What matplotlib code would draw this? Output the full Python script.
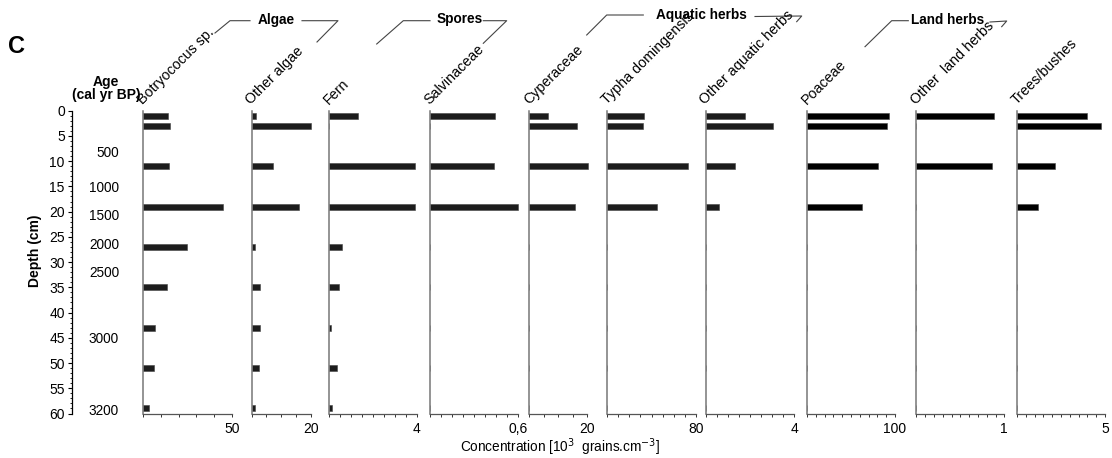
import numpy as np
import matplotlib
matplotlib.use("Agg")
import matplotlib.pyplot as plt
from matplotlib.lines import Line2D

plt.rcParams['font.family'] = ['Liberation Sans', 'DejaVu Sans']

# sample depths (cm)
depths = [1, 3, 11, 19, 27, 35, 43, 51, 59]

# concentrations [10^3 grains.cm-3], 0 = not found
botryococcus = [13.7, 15.2, 14.7, 45.3, 24.8, 13.4, 6.8, 6.2, 3.0]
other_algae = [1.4, 20.0, 7.3, 16.0, 1.1, 2.8, 2.8, 2.5, 1.2]
fern = [1.32, 0, 3.91, 3.91, 0.59, 0.47, 0.10, 0.35, 0.15]
salvinaceae = [0.445, 0, 0.436, 0.60, 0, 0, 0, 0, 0]
cyperaceae = [6.3, 16.5, 20.2, 15.8, 0, 0, 0, 0, 0]
typha = [33.2, 32.6, 73.0, 44.7, 0, 0, 0, 0, 0]
other_aquatic = [1.79, 3.04, 1.32, 0.62, 0, 0, 0, 0, 0]
poaceae = [93.5, 90.5, 80.7, 62.9, 0, 0, 0, 0, 0]
other_land = [0.886, 0, 0.864, 0, 0, 0, 0, 0, 0]
trees = [3.98, 4.77, 2.18, 1.21, 0, 0, 0, 0, 0]

taxa = ["Botryococus sp.", "Other algae", "Fern", "Salvinaceae", "Cyperaceae",
        "Typha domingensis", "Other aquatic herbs", "Poaceae",
        "Other  land herbs", "Trees/bushes"]
series = [botryococcus, other_algae, fern, salvinaceae, cyperaceae,
          typha, other_aquatic, poaceae, other_land, trees]
xmax = [50, 20, 4, 0.6, 20, 80, 4, 100, 1, 5]
xmax_labels = ["50", "20", "4", "0,6", "20", "80", "4", "100", "1", "5"]
n_intervals = [5, 4, 8, 8, 4, 8, 8, 10, 10, 10]

# age scale
age_labels = ["500", "1000", "1500", "2000", "2500", "3000", "3200"]
age_depths = [8.4, 15.4, 20.8, 26.6, 32.2, 45.2, 59.6]

groups = ["Algae", "Spores", "Aquatic herbs", "Land herbs"]

# ---- layout (pixels) ----
W, H = 1112, 458
fig = plt.figure(figsize=(W / 100, H / 100), dpi=100)
y_top, y_bot = 110.7, 413.5
panel_x = [(143.3, 231.7), (251.5, 310.7), (329.0, 416.7), (430.0, 518.0),
           (529.3, 587.3), (607.3, 695.7), (705.7, 794.3), (807.0, 895.0),
           (916.3, 1004.3), (1017.0, 1105.0)]
bar_colors = ['#1c1c1c'] * 7 + ['#000000'] * 3


def px_rect(x0, x1):
    return [x0 / W, 1 - y_bot / H, (x1 - x0) / W, (y_bot - y_top) / H]


# depth axis
axd = fig.add_axes(px_rect(71.7, 140))
axd.set_ylim(60, 0)
axd.set_xlim(0, 1)
for s in ['top', 'right', 'bottom']:
    axd.spines[s].set_visible(False)
axd.spines['left'].set_linewidth(0.9)
axd.set_xticks([])
axd.set_yticks(np.arange(0, 61, 5))
axd.set_yticks(np.arange(0, 61, 1), minor=True)
axd.tick_params(axis='y', which='major', length=3, width=0.8, labelsize=10, pad=2)
axd.tick_params(axis='y', which='minor', length=1.5, width=0.6)
axd.patch.set_visible(False)

# age labels, right aligned at a fixed pixel column
for lab, d in zip(age_labels, age_depths):
    ypx = y_top + (y_bot - y_top) * d / 60
    fig.text(119 / W, 1 - ypx / H, lab, fontsize=9.8, ha='right', va='center')

# panels
for i, (name, vals) in enumerate(zip(taxa, series)):
    x0, x1 = panel_x[i]
    ax = fig.add_axes(px_rect(x0, x1))
    ax.barh(depths, vals, height=1.2, color=bar_colors[i], edgecolor='#444444',
            linewidth=0.4, clip_on=False)
    ax.set_ylim(60, 0)
    ax.set_xlim(0, xmax[i])
    for s in ['top', 'right']:
        ax.spines[s].set_visible(False)
    ax.spines['left'].set_color('#777777')
    ax.spines['left'].set_linewidth(1.1)
    ax.spines['bottom'].set_color('#555555')
    ax.spines['bottom'].set_linewidth(0.9)
    ax.set_yticks([])
    ticks = np.linspace(0, xmax[i], n_intervals[i] + 1)
    ax.set_xticks(ticks)
    ax.set_xticklabels([''] * n_intervals[i] + [xmax_labels[i]])
    ax.tick_params(axis='x', length=2.5, width=0.7, color='#333333',
                   labelsize=10, pad=3.5)
    ax.patch.set_visible(False)
    fig.text((x0 + 1.5) / W, 1 - 107 / H, name, rotation=45, rotation_mode='anchor',
             ha='left', va='bottom', fontsize=10.3)

# headers
fig.text(16.5 / W, 1 - 46.5 / H, "C", fontsize=17, fontweight='bold',
         ha='center', va='center')
fig.text(106 / W, 1 - 82 / H, "Age", fontsize=10, fontweight='bold',
         ha='center', va='center')
fig.text(106 / W, 1 - 94.5 / H, "(cal yr BP)", fontsize=10, fontweight='bold',
         ha='center', va='center')
fig.text(35 / W, 1 - 251 / H, "Depth (cm)", fontsize=10, fontweight='bold',
         rotation=90, ha='center', va='center')
fig.text(560 / W, 1 - 447 / H, "Concentration [10$^3$  grains.cm$^{-3}$]",
         fontsize=9.8, ha='center', va='center')

# group brackets
brackets = [
    ([(215, 33), (230, 20.7), (250, 20.7)], [(302, 20.7), (338, 20.7), (317, 42)], (276, 20)),
    ([(376.7, 44), (403.3, 20.7), (430, 20.7)], [(483.3, 20.7), (506.7, 20.7), (483.3, 43.3)], (460, 19.5)),
    ([(586.7, 35), (606.7, 15), (643.3, 15)], [(755, 16.5), (801.7, 16), (796.7, 21.7)], (701, 15)),
    ([(865, 46.7), (891.7, 20.7), (908.3, 20.7)], [(990, 22), (1006.7, 21), (1001.7, 26.7)], (947.5, 20)),
]
for name, (left, right, tpos) in zip(groups, brackets):
    for seg in (left, right):
        xs = [p[0] / W for p in seg]
        ys = [1 - p[1] / H for p in seg]
        fig.add_artist(Line2D(xs, ys, transform=fig.transFigure, color='#444444', lw=0.8))
    fig.text(tpos[0] / W, 1 - tpos[1] / H, name, fontsize=9.8, fontweight='bold',
             ha='center', va='center')

fig.savefig("out.png", dpi=100)
